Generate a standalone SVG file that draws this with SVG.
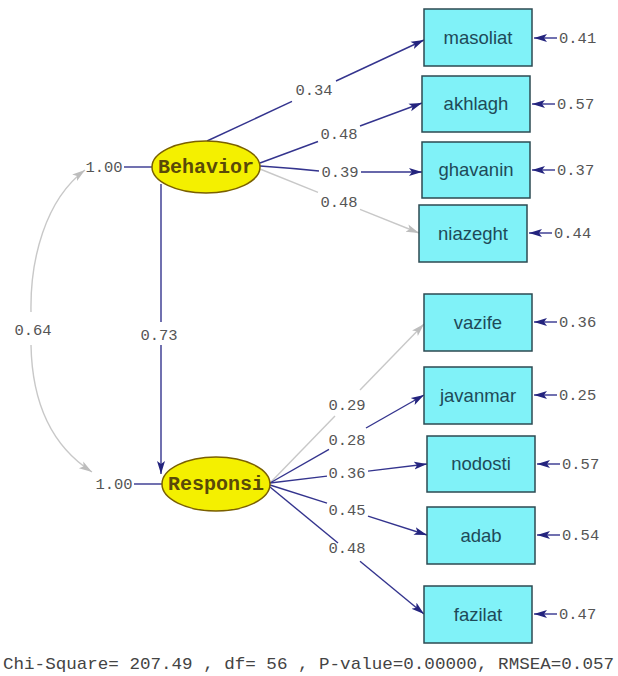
<svg xmlns="http://www.w3.org/2000/svg" width="618" height="676" viewBox="0 0 618 676">
<style>
.bg{fill:#ffffff}
.box{fill:#80f2f8;stroke:#2c4a52;stroke-width:1.5}
.blab{font-family:"Liberation Sans",Arial,sans-serif;font-size:18.5px;fill:#1e4a58;text-anchor:middle}
.ell{fill:#f4f000;stroke:#7a6000;stroke-width:1.5}
.elab{font-family:"Liberation Mono","Courier New",monospace;font-size:20px;font-weight:bold;fill:#5a4a08;text-anchor:middle}
.num{font-family:"Liberation Mono","Courier New",monospace;font-size:15.5px;fill:#555555;text-anchor:middle}
.numl{font-family:"Liberation Mono","Courier New",monospace;font-size:15.5px;fill:#555555}
.p{fill:none;stroke:#34348e;stroke-width:1.4}
.g{fill:none;stroke:#c8c8c8;stroke-width:1.4}
.foot{font-family:"Liberation Mono","Courier New",monospace;font-size:17px;fill:#444444}
</style>
<defs>
<marker id="ah" markerUnits="userSpaceOnUse" markerWidth="14" markerHeight="10" refX="13" refY="4.5" orient="auto">
<path d="M0,0.5 L13,4.5 L0,8.5 L3,4.5 z" fill="#24247e"/>
</marker>
<marker id="ahg" markerUnits="userSpaceOnUse" markerWidth="14" markerHeight="10" refX="13" refY="4.5" orient="auto-start-reverse">
<path d="M0,0.5 L13,4.5 L0,8.5 L3,4.5 z" fill="#bdbdbd"/>
</marker>
</defs>
<rect class="bg" x="0" y="0" width="618" height="676"/>

<g id="connectors">
<!-- Behavior to indicators -->
<line class="p" x1="207" y1="141" x2="292" y2="101.4"/>
<line class="p" x1="336" y1="81" x2="424" y2="40" marker-end="url(#ah)"/>
<line class="p" x1="260" y1="163" x2="318" y2="141.5"/>
<line class="p" x1="360" y1="126" x2="422" y2="103" marker-end="url(#ah)"/>
<path class="p" d="M260 166 Q290 168 319 171"/>
<line class="p" x1="361" y1="172" x2="422" y2="172" marker-end="url(#ah)"/>
<line class="g" x1="260" y1="169" x2="318" y2="192.3"/>
<line class="g" x1="360" y1="209.3" x2="419" y2="233" marker-end="url(#ahg)"/>
<!-- Behavior to Responsi -->
<line class="p" x1="161" y1="184" x2="161" y2="322"/>
<line class="p" x1="161" y1="345" x2="161" y2="474" marker-end="url(#ah)"/>
<!-- covariance -->
<path class="g" d="M31 312 C30 260 45 200 85 170" marker-end="url(#ahg)"/>
<path class="g" d="M31 345 C32 400 50 445 92 472" marker-end="url(#ahg)"/>
<!-- variance lines -->
<line class="p" x1="124" y1="167" x2="152" y2="167"/>
<line class="p" x1="134" y1="484" x2="162" y2="484"/>
<!-- Responsi to indicators -->
<line class="g" x1="270" y1="483" x2="335" y2="415.9"/>
<line class="g" x1="360" y1="390.1" x2="424" y2="324" marker-end="url(#ahg)"/>
<line class="p" x1="270" y1="483" x2="329" y2="449.3"/>
<line class="p" x1="366" y1="428" x2="424" y2="395" marker-end="url(#ah)"/>
<line class="p" x1="270" y1="483" x2="327" y2="476.1"/>
<line class="p" x1="368" y1="471.1" x2="427" y2="464" marker-end="url(#ah)"/>
<line class="p" x1="270" y1="485" x2="327" y2="503.2"/>
<line class="p" x1="368" y1="516.2" x2="427" y2="535" marker-end="url(#ah)"/>
<line class="p" x1="270" y1="487" x2="338" y2="543"/>
<line class="p" x1="360" y1="561.2" x2="424" y2="614" marker-end="url(#ah)"/>
<!-- error arrows -->
<line class="p" x1="557" y1="38" x2="534" y2="38" marker-end="url(#ah)"/>
<line class="p" x1="555" y1="104" x2="532" y2="104" marker-end="url(#ah)"/>
<line class="p" x1="555" y1="170" x2="532" y2="170" marker-end="url(#ah)"/>
<line class="p" x1="552" y1="233" x2="529" y2="233" marker-end="url(#ah)"/>
<line class="p" x1="557" y1="322" x2="534" y2="322" marker-end="url(#ah)"/>
<line class="p" x1="557" y1="395" x2="534" y2="395" marker-end="url(#ah)"/>
<line class="p" x1="560" y1="464" x2="537" y2="464" marker-end="url(#ah)"/>
<line class="p" x1="560" y1="535" x2="537" y2="535" marker-end="url(#ah)"/>
<line class="p" x1="557" y1="614" x2="534" y2="614" marker-end="url(#ah)"/>
</g>

<g id="path-labels">
<text class="num" x="314" y="95">0.34</text>
<text class="num" x="339" y="139">0.48</text>
<text class="num" x="340" y="177">0.39</text>
<text class="num" x="339" y="207">0.48</text>
<text class="num" x="159" y="340">0.73</text>
<text class="num" x="33" y="335">0.64</text>
<text class="num" x="104" y="172">1.00</text>
<text class="num" x="114" y="489">1.00</text>
<text class="num" x="347" y="410">0.29</text>
<text class="num" x="347" y="445">0.28</text>
<text class="num" x="347" y="478">0.36</text>
<text class="num" x="347" y="515">0.45</text>
<text class="num" x="347" y="553">0.48</text>
<text class="numl" x="559" y="43">0.41</text>
<text class="numl" x="557" y="109">0.57</text>
<text class="numl" x="557" y="175">0.37</text>
<text class="numl" x="554" y="238">0.44</text>
<text class="numl" x="559" y="327">0.36</text>
<text class="numl" x="559" y="400">0.25</text>
<text class="numl" x="562" y="469">0.57</text>
<text class="numl" x="562" y="540">0.54</text>
<text class="numl" x="559" y="619">0.47</text>
</g>

<g id="Behavior">
<ellipse class="ell" cx="206" cy="167" rx="54" ry="26"/>
<text class="elab" x="206" y="173">Behavior</text>
</g>
<g id="Responsi">
<ellipse class="ell" cx="216" cy="484" rx="54" ry="27"/>
<text class="elab" x="216" y="490">Responsi</text>
</g>

<g id="masoliat"><rect class="box" x="424" y="9" width="108" height="57"/><text class="blab" x="478" y="44">masoliat</text></g>
<g id="akhlagh"><rect class="box" x="422" y="76" width="108" height="56"/><text class="blab" x="476" y="110">akhlagh</text></g>
<g id="ghavanin"><rect class="box" x="422" y="142" width="108" height="56"/><text class="blab" x="476" y="176">ghavanin</text></g>
<g id="niazeght"><rect class="box" x="419" y="205" width="108" height="57"/><text class="blab" x="473" y="240">niazeght</text></g>
<g id="vazife"><rect class="box" x="424" y="294" width="108" height="57"/><text class="blab" x="478" y="329">vazife</text></g>
<g id="javanmar"><rect class="box" x="424" y="367" width="108" height="57"/><text class="blab" x="478" y="402">javanmar</text></g>
<g id="nodosti"><rect class="box" x="427" y="436" width="108" height="56"/><text class="blab" x="481" y="470">nodosti</text></g>
<g id="adab"><rect class="box" x="427" y="507" width="108" height="57"/><text class="blab" x="481" y="542">adab</text></g>
<g id="fazilat"><rect class="box" x="424" y="586" width="108" height="57"/><text class="blab" x="478" y="621">fazilat</text></g>

<text class="foot" x="3" y="669" textLength="611" lengthAdjust="spacingAndGlyphs">Chi-Square= 207.49 , df= 56 , P-value=0.00000, RMSEA=0.057</text>
</svg>
